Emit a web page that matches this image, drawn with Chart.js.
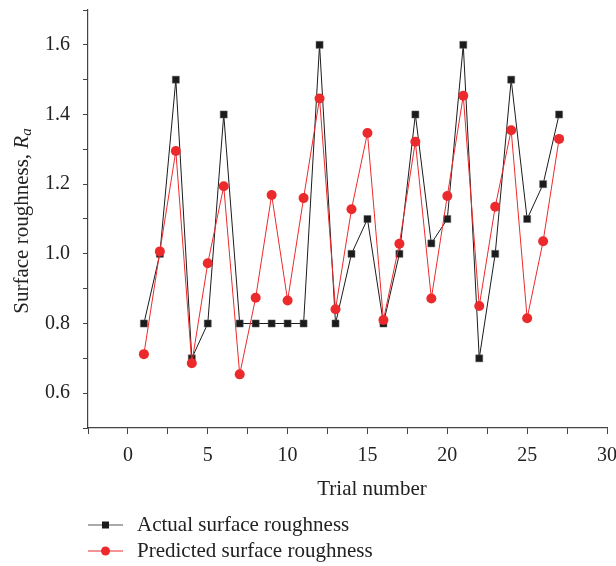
<!DOCTYPE html>
<html>
<head>
<meta charset="utf-8">
<script src="https://cdn.jsdelivr.net/npm/chart.js@4"></script>
<style>
  html, body { margin: 0; padding: 0; background: #fff; }
  #box { width: 616px; height: 566px; }
</style>
</head>
<body>
<div id="box"><canvas id="grafico" width="616" height="566"></canvas></div>
<script>
const ensaios = [1, 2, 3, 4, 5, 6, 7, 8, 9, 10, 11, 12, 13, 14, 15, 16, 17, 18, 19, 20, 21, 22, 23, 24, 25, 26, 27];
const rugosidadeReal = [0.80, 1.00, 1.50, 0.70, 0.80, 1.40, 0.80, 0.80, 0.80, 0.80, 0.80, 1.60, 0.80, 1.00, 1.10, 0.80, 1.00, 1.40, 1.03, 1.10, 1.60, 0.70, 1.00, 1.50, 1.10, 1.20, 1.40];
const rugosidadePrevista = [0.712, 1.007, 1.295, 0.686, 0.973, 1.194, 0.654, 0.874, 1.169, 0.866, 1.160, 1.446, 0.841, 1.128, 1.347, 0.810, 1.029, 1.322, 0.872, 1.166, 1.454, 0.850, 1.135, 1.355, 0.815, 1.036, 1.330];
const ticksX = [-2.5, 0, 2.5, 5, 7.5, 10, 12.5, 15, 17.5, 20, 22.5, 25, 27.5, 30];
const rotulosX = [0, 5, 10, 15, 20, 25, 30];
const ticksY = [0.5, 0.6, 0.7, 0.8, 0.9, 1.0, 1.1, 1.2, 1.3, 1.4, 1.5, 1.6, 1.7];
const rotulosY = [0.6, 0.8, 1.0, 1.2, 1.4, 1.6];
const nomesSeries = ["Actual surface roughness", "Predicted surface roughness"];

const PRETO = "#1b1b1b";
const VERMELHO = "#ec2a2c";
const FONTE = "'Liberation Serif', 'DejaVu Serif', serif";

function pontos(valores) {
    return ensaios.map((x, i) => ({ x: x, y: valores[i] }));
}

function zerarPadding(escala) {
    escala.paddingTop = 0;
    escala.paddingBottom = 0;
    escala.paddingLeft = 0;
    escala.paddingRight = 0;
}

const legendaETitulos = {
    id: "legendaETitulos",
    afterDraw(chart) {
        const ctx = chart.ctx;
        ctx.save();
        ctx.fillStyle = "#222";
        ctx.font = "21px " + FONTE;
        ctx.textBaseline = "middle";

        // titulo do eixo x
        ctx.textAlign = "center";
        ctx.fillText("Trial number", 372, 489);

        // titulo do eixo y com R_a em italico
        ctx.translate(22, 221);
        ctx.rotate(-Math.PI / 2);
        ctx.textAlign = "left";
        const parte1 = "Surface roughness, ";
        ctx.font = "21px " + FONTE;
        const w1 = ctx.measureText(parte1).width;
        ctx.font = "italic 21px " + FONTE;
        const w2 = ctx.measureText("R").width;
        ctx.font = "italic 15px " + FONTE;
        const w3 = ctx.measureText("a").width;
        let x = -(w1 + w2 + w3) / 2;
        ctx.font = "21px " + FONTE;
        ctx.fillText(parte1, x, 0);
        x += w1;
        ctx.font = "italic 21px " + FONTE;
        ctx.fillText("R", x, 0);
        x += w2;
        ctx.font = "italic 15px " + FONTE;
        ctx.fillText("a", x, 5);
        ctx.restore();

        // legenda
        ctx.save();
        const linhas = [
            { nome: nomesSeries[0], cor: "#555", marca: PRETO, tipo: "rect", y: 525 },
            { nome: nomesSeries[1], cor: VERMELHO, marca: VERMELHO, tipo: "circle", y: 551 }
        ];
        linhas.forEach(item => {
            ctx.strokeStyle = item.cor;
            ctx.lineWidth = 1.2;
            ctx.beginPath();
            ctx.moveTo(88, item.y);
            ctx.lineTo(123, item.y);
            ctx.stroke();
            ctx.fillStyle = item.marca;
            if (item.tipo === "rect") {
                ctx.fillRect(102, item.y - 3.5, 7, 7);
            } else {
                ctx.beginPath();
                ctx.arc(105.5, item.y, 4.5, 0, Math.PI * 2);
                ctx.fill();
            }
            ctx.fillStyle = "#222";
            ctx.font = "21px " + FONTE;
            ctx.textAlign = "left";
            ctx.textBaseline = "middle";
            ctx.fillText(item.nome, 137, item.y);
        });
        ctx.restore();
    }
};

new Chart(document.querySelector("#grafico"), {
    type: "line",
    data: {
        datasets: [{
            label: nomesSeries[0],
            data: pontos(rugosidadeReal),
            borderColor: PRETO,
            backgroundColor: PRETO,
            borderWidth: 1,
            pointStyle: "rect",
            pointRadius: 5,
            pointBorderWidth: 0.5,
            pointBorderColor: "#666",
            pointBackgroundColor: PRETO,
            order: 2
        }, {
            label: nomesSeries[1],
            data: pontos(rugosidadePrevista),
            borderColor: VERMELHO,
            backgroundColor: VERMELHO,
            borderWidth: 1,
            pointStyle: "circle",
            pointRadius: 5,
            pointBorderWidth: 0,
            pointBackgroundColor: VERMELHO,
            order: 1
        }]
    },
    options: {
        responsive: false,
        animation: false,
        devicePixelRatio: 1,
        layout: { padding: { left: 0, right: 9, top: 10, bottom: 98 } },
        plugins: {
            legend: { display: false },
            tooltip: { enabled: false }
        },
        scales: {
            x: {
                type: "linear",
                min: -2.5,
                max: 30,
                afterBuildTicks: escala => { escala.ticks = ticksX.map(v => ({ value: v })); },
                afterFit: escala => { escala.height = 40; zerarPadding(escala); },
                ticks: {
                    autoSkip: false,
                    maxRotation: 0,
                    padding: 10,
                    color: "#222",
                    font: { family: FONTE, size: 20 },
                    callback: v => rotulosX.includes(v) ? String(v) : ""
                },
                grid: {
                    drawOnChartArea: false,
                    tickLength: 6,
                    tickColor: "#444",
                    tickWidth: 1
                },
                border: { color: "#444", width: 1.2 }
            },
            y: {
                min: 0.5,
                max: 1.7,
                afterBuildTicks: escala => { escala.ticks = ticksY.map(v => ({ value: v })); },
                afterFit: escala => { escala.width = 88; zerarPadding(escala); },
                ticks: {
                    autoSkip: false,
                    padding: 13,
                    color: "#222",
                    font: { family: FONTE, size: 20 },
                    callback: v => rotulosY.some(r => Math.abs(r - v) < 1e-6) ? v.toFixed(1) : ""
                },
                grid: {
                    drawOnChartArea: false,
                    tickLength: 5,
                    tickColor: "#444",
                    tickWidth: 1
                },
                border: { color: "#444", width: 1.2 }
            }
        }
    },
    plugins: [legendaETitulos]
});
</script>
</body>
</html>
